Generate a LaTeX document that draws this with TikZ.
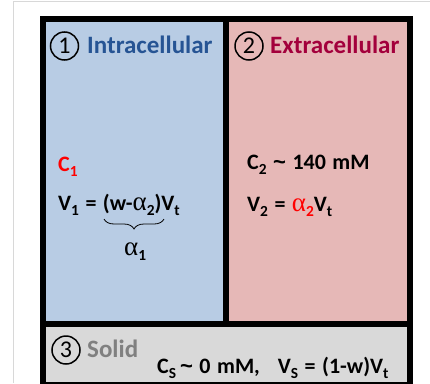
\documentclass[tikz,border=0pt]{standalone}
\usepackage{fontspec}
\usepackage{graphicx}
\setmainfont{Carlito}
\newfontfamily\grk{Liberation Serif}
\newfontfamily\tldf{Liberation Sans}
\usetikzlibrary{decorations.pathreplacing}
\definecolor{cellblue}{HTML}{B8CCE4}
\definecolor{cellpink}{HTML}{E6B8B7}
\definecolor{cellgray}{HTML}{D9D9D9}
\definecolor{headblue}{RGB}{38,84,148}
\definecolor{headred}{RGB}{163,0,60}
\definecolor{solidgray}{RGB}{128,128,128}
\definecolor{framegray}{RGB}{216,216,216}
\newcommand\sbx[1]{\raisebox{-0.24em}{\scalebox{0.7}{#1}}}
\newcommand\alf{{\grk\mdseries\fontsize{27}{27}\selectfont α}}
\newcommand\tld{{\tldf\bfseries\char`~}}
\newcommand\wsp{\spaceskip=6.5pt\relax}
\tikzset{
  txt/.style={inner sep=0pt, anchor=base west, font=\fontsize{22}{22}\selectfont\bfseries, execute at begin node=\wsp},
  head/.style={inner sep=0pt, anchor=base west, font=\fontsize{25}{25}\selectfont\bfseries},
  num/.style={circle, draw=black, line width=1.5pt, minimum size=28pt, inner sep=0pt, font=\fontsize{24}{24}\selectfont},
}
\begin{document}
\begin{tikzpicture}[x=1pt,y=-1pt]
\useasboundingbox (0,0) rectangle (430,383);
% outer light frame
\draw[framegray, line width=1.2pt] (13.5,383) -- (13.5,1.5) -- (430,1.5);
% black box
\fill[black] (40,16) rectangle (413,390);
\fill[cellblue] (46,22) rectangle (222.7,320.7);
\fill[cellpink] (229.3,22) rectangle (406.7,320.7);
\fill[cellgray] (46,326.7) rectangle (406.7,381.7);
% headings
\node[num] (n1) at (64.5,46) {1};
\node[head, text=headblue] (h1) at (87,53) {Intracellular};
\node[num] (n2) at (249,46) {2};
\node[head, text=headred] (h2) at (270,53) {Extracellular};
\node[num] (n3) at (66,350) {3};
\node[head, text=solidgray] (h3) at (87,357) {Solid};
% intracellular
\node[txt, text=red] (c1) at (58,171.5) {C\sbx{1}};
\node[txt] (v1) at (58,210.5) {V\sbx{1} = (w-\alf\sbx{2})V\sbx{t}};
\coordinate (bl) at (104,219);
\coordinate (br) at (164,219);
\draw[decorate, decoration={brace, mirror, amplitude=10pt}, line width=0.8pt] (bl) -- (br);
\node[txt] (a1) at (124,255) {\alf\sbx{1}};
% extracellular
\node[txt] (c2) at (247,169.5) {C\sbx{2} \tld{} 140 mM};
\node[txt] (v2) at (247,211.5) {V\sbx{2} = {\color{red}\alf\sbx{2}}V\sbx{t}};
% solid
\node[txt] (cs) at (157,373) {C\sbx{S}\kern4pt\tld{} 0 mM,\hspace{18pt}V\sbx{S} = (1-w)V\sbx{t}};
\end{tikzpicture}
\end{document}
